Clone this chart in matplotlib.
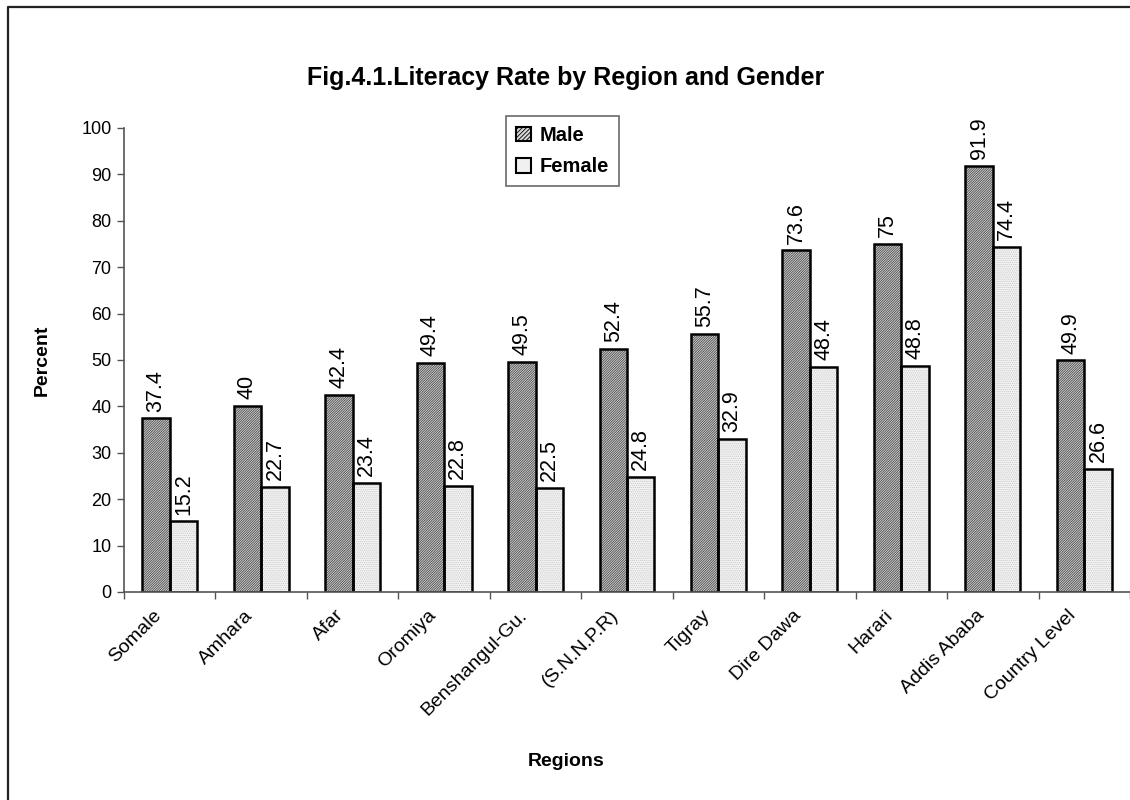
import matplotlib
matplotlib.use("Agg")
from matplotlib import pyplot as plt
from matplotlib.patches import Patch
from matplotlib.lines import Line2D
import numpy as np

regions = ["Somale", "Amhara", "Afar", "Oromiya", "Benshangul-Gu.", "(S.N.N.P.R)",
           "Tigray", "Dire Dawa", "Harari", "Addis Ababa", "Country Level"]
male = [37.4, 40, 42.4, 49.4, 49.5, 52.4, 55.7, 73.6, 75, 91.9, 49.9]
female = [15.2, 22.7, 23.4, 22.8, 22.5, 24.8, 32.9, 48.4, 48.8, 74.4, 26.6]
male_text = ["37.4", "40", "42.4", "49.4", "49.5", "52.4", "55.7", "73.6", "75", "91.9", "49.9"]
female_text = ["15.2", "22.7", "23.4", "22.8", "22.5", "24.8", "32.9", "48.4", "48.8", "74.4", "26.6"]

plt.rcParams['font.family'] = ['Liberation Sans', 'DejaVu Sans']
plt.rcParams['hatch.linewidth'] = 0.6

fig = plt.figure(figsize=(11.3, 8), dpi=100)
ax = fig.add_axes([124 / 1130, 1 - 592 / 800, 1 - 124 / 1130, (592 - 128) / 800])

x = np.arange(len(regions))
w = 0.3
male_hatch = "/" * 14
female_hatch = "." * 8

# hatched fill first, then black outlines on top
ax.bar(x - w / 2, male, w, facecolor="#d8d8d8", edgecolor="#4a4a4a", hatch=male_hatch, linewidth=0)
ax.bar(x + w / 2, female, w, facecolor="#f4f4f4", edgecolor="#c8c8c8", hatch=female_hatch, linewidth=0)
ax.bar(x - w / 2, male, w, facecolor="none", edgecolor="black", linewidth=1.8)
ax.bar(x + w / 2, female, w, facecolor="none", edgecolor="black", linewidth=1.8)

for i in range(len(regions)):
    ax.annotate(male_text[i], (x[i] - w / 2, male[i]), xytext=(0, 5), textcoords="offset points",
                rotation=90, ha="center", va="bottom", fontsize=15.5)
    ax.annotate(female_text[i], (x[i] + w / 2, female[i]), xytext=(0, 5), textcoords="offset points",
                rotation=90, ha="center", va="bottom", fontsize=15.5)

ax.set_xlim(-0.5, len(regions) - 0.5)
ax.set_ylim(0, 100)
ax.set_yticks(np.arange(0, 101, 10))
ax.tick_params(axis="y", labelsize=13, length=5, width=1, color="#555555", pad=4)
ax.set_xticks(x)
ax.set_xticklabels([])
ax.tick_params(axis="x", which="major", length=0)
ax.set_xticks(np.arange(-0.5, len(regions), 1.0), minor=True)
ax.tick_params(axis="x", which="minor", length=5, width=1, color="#555555")

for i in range(len(regions)):
    ax.annotate(regions[i], (x[i], 0), xycoords=("data", "axes fraction"), xytext=(-8, -15),
                textcoords="offset points", rotation=45, rotation_mode="anchor",
                ha="right", va="center", fontsize=14)

for side in ["top", "right"]:
    ax.spines[side].set_visible(False)
for side in ["left", "bottom"]:
    ax.spines[side].set_color("#555555")
    ax.spines[side].set_linewidth(1.2)

fig.text(566 / 1130, 1 - 78 / 800, "Fig.4.1.Literacy Rate by Region and Gender",
         ha="center", va="center", fontsize=18, fontweight="bold")
fig.text(42 / 1130, 1 - 360 / 800, "Percent", rotation=90, ha="center", va="center",
         fontsize=14, fontweight="bold")
fig.text(566 / 1130, 1 - 761 / 800, "Regions", ha="center", va="center",
         fontsize=14, fontweight="bold")

handles = [Patch(facecolor="#d8d8d8", edgecolor="black", hatch="/" * 8, linewidth=1.5),
           Patch(facecolor="#f0f0f0", edgecolor="black", linewidth=1.5)]
leg = fig.legend(handles, ["Male", "Female"], loc="upper left",
                 bbox_to_anchor=(506 / 1130, 1 - 116 / 800), fancybox=False,
                 prop={"weight": "bold", "size": 14.5}, handlelength=0.75, handleheight=0.75,
                 handletextpad=0.4, labelspacing=0.6, borderpad=0.5, borderaxespad=0,
                 frameon=True)
leg.get_frame().set_edgecolor("#444444")
leg.get_frame().set_linewidth(1.2)

# outer chart border (left and top edges visible)
fig.add_artist(Line2D([8 / 1130, 8 / 1130, 1.0], [0, 1 - 7 / 800, 1 - 7 / 800],
                      transform=fig.transFigure, color="#222222", linewidth=1.6))

plt.savefig("out.png", dpi=100)
